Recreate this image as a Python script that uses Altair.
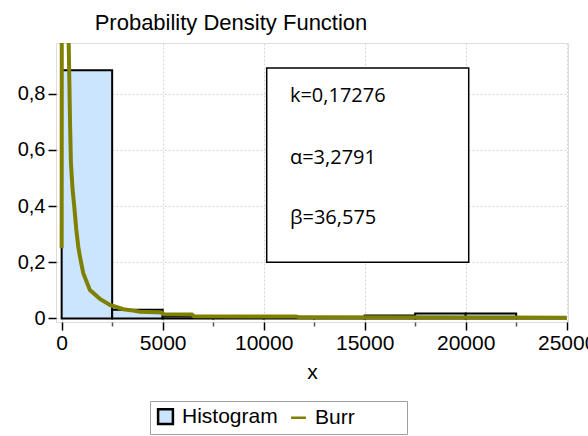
import altair as alt
import pandas as pd

# Histogram bins (width 2500) and their heights
bin_start = [0, 2500, 5000, 7500, 10000, 12500, 15000, 17500, 20000, 22500]
bin_end = [2500, 5000, 7500, 10000, 12500, 15000, 17500, 20000, 22500, 25000]
bin_height = [0.884, 0.031, 0.008, 0.003, 0.003, 0.001, 0.011, 0.018, 0.018, 0.0]

# Fitted Burr density, sampled along x
curve_x = [0, 20, 330, 380, 420, 460, 540, 625, 720, 822, 906, 1070, 1400,
           1896, 2390, 3050, 3545, 3876, 4950, 5050, 6450, 6550, 11600,
           11800, 25000]
curve_y = [0.25, 3.0, 1.05, 0.85, 0.68, 0.553, 0.46, 0.398, 0.32, 0.256,
           0.22, 0.161, 0.101, 0.07, 0.048, 0.033, 0.028, 0.024, 0.021,
           0.015, 0.014, 0.008, 0.007, 0.004, 0.003]

# Fitted parameters shown in the annotation box
param_text = ["k=0,17276", "α=3,2791", "β=36,575"]
param_y = [0.792, 0.572, 0.357]

series_names = ["Histogram", "Burr"]

x_ticks = list(range(0, 25001, 1250))
y_ticks = [round(i * 0.05, 2) for i in range(0, 20)]

hist_df = pd.DataFrame({"x0": bin_start, "x1": bin_end, "h": bin_height})
curve_df = pd.DataFrame({"x": curve_x, "y": curve_y, "series": "Burr"})
box_df = pd.DataFrame({"x0": [10150], "x1": [20150], "y0": [0.2], "y1": [0.892]})
text_df = pd.DataFrame({"x": [11300] * 3, "y": param_y, "t": param_text})
legend_df = pd.DataFrame({"series": series_names, "x": [0, 0], "y": [0, 0]})

x_scale = alt.Scale(domain=[-280, 25065], nice=False, zero=False)
y_scale = alt.Scale(domain=[-0.0125, 0.981], nice=False, zero=False)

FONT = "Liberation Sans"

x_axis = alt.Axis(
    values=x_ticks,
    labelExpr="datum.value % 5000 == 0 ? format(datum.value, 'd') : ''",
    tickSize={"condition": {"test": "datum.value % 5000 == 0", "value": 8}, "value": 4},
    tickColor={"condition": {"test": "datum.value % 5000 == 0", "value": "black"}, "value": "#555555"},
    gridOpacity={"condition": {"test": "datum.value % 5000 == 0", "value": 1}, "value": 0},
    tickWidth=1.5,
    grid=True,
    gridColor="#d4d4d4",
    gridDash=[2, 2],
    domain=False,
    labelFlush=False,
    labelOverlap=False,
    labelFont=FONT,
    labelFontSize=21,
    labelColor="black",
    labelPadding=2,
    title="x",
    titleFont=FONT,
    titleFontSize=21,
    titleFontWeight="normal",
    titleColor="black",
    titlePadding=8,
)

major_y = "abs(datum.value * 5 - round(datum.value * 5)) < 0.001"
y_axis = alt.Axis(
    values=y_ticks,
    labelExpr="(" + major_y + ") ? (datum.value == 0 ? '0' : replace(format(datum.value, '.1f'), '.', ',')) : ''",
    tickSize={"condition": {"test": major_y, "value": 8}, "value": 4},
    tickColor={"condition": {"test": major_y, "value": "black"}, "value": "#555555"},
    gridOpacity={"condition": {"test": major_y, "value": 1}, "value": 0},
    tickWidth=1.5,
    grid=True,
    gridColor="#d4d4d4",
    gridDash=[2, 2],
    domain=False,
    labelOverlap=False,
    labelFont=FONT,
    labelFontSize=20,
    labelColor="black",
    labelPadding=3,
    title=None,
)

# trailing no-break spaces widen the legend frame; the final zero-width
# character keeps them from being trimmed
legend = alt.Legend(
    title=None,
    orient="none",
    legendX=94,
    legendY=358,
    direction="horizontal",
    strokeColor="#a0a0a0",
    padding=5,
    labelFont=FONT,
    labelFontSize=21,
    labelColor="black",
    labelOffset=6,
    symbolSize=220,
    symbolStrokeWidth=2.5,
    symbolOpacity=1,
    columnPadding=8,
    labelExpr="datum.label == 'Burr' ? 'Burr' + '\u00a0\u00a0\u00a0\u00a0\u00a0\u00a0\u00a0\u00a0\u200b' : datum.label",
)

fill_scale = alt.Scale(domain=series_names, range=["#cce5ff", "#808000"])
stroke_scale = alt.Scale(domain=series_names, range=["black", "#808000"])
shape_scale = alt.Scale(domain=series_names, range=["square", "stroke"])

bars = alt.Chart(hist_df).mark_rect(
    fill="#cce5ff", stroke="black", strokeWidth=2
).encode(
    x=alt.X("x0:Q", scale=x_scale, axis=x_axis),
    x2="x1:Q",
    y=alt.Y("h:Q", scale=y_scale, axis=y_axis),
    y2=alt.datum(0),
)

curve = alt.Chart(curve_df).mark_line(strokeWidth=4, clip=True).encode(
    x=alt.X("x:Q", scale=x_scale),
    y=alt.Y("y:Q", scale=y_scale),
    stroke=alt.Stroke("series:N", scale=stroke_scale, legend=legend),
)

legend_marks = alt.Chart(legend_df).mark_point(filled=True, opacity=0).encode(
    x=alt.X("x:Q", scale=x_scale),
    y=alt.Y("y:Q", scale=y_scale),
    fill=alt.Fill("series:N", scale=fill_scale, legend=legend),
    stroke=alt.Stroke("series:N", scale=stroke_scale, legend=legend),
    shape=alt.Shape("series:N", scale=shape_scale, legend=legend),
)

box = alt.Chart(box_df).mark_rect(fill="white", stroke="black", strokeWidth=1.5).encode(
    x=alt.X("x0:Q", scale=x_scale),
    x2="x1:Q",
    y=alt.Y("y0:Q", scale=y_scale),
    y2="y1:Q",
)

params = alt.Chart(text_df).mark_text(
    align="left", baseline="middle", font="Open Sans", fontSize=20, color="black"
).encode(
    x=alt.X("x:Q", scale=x_scale),
    y=alt.Y("y:Q", scale=y_scale),
    text="t:N",
)

chart = alt.layer(bars, curve, box, params, legend_marks).properties(
    width=512,
    height=279,
    title=alt.TitleParams(
        "Probability Density Function",
        anchor="middle",
        dx=-81,
        offset=8,
        font=FONT,
        fontSize=22,
        fontWeight="normal",
        color="black",
    ),
    padding={"left": 56, "top": 43, "right": 20, "bottom": 114},
    autosize=alt.AutoSizeParams(type="none"),
).configure_view(
    stroke="black", strokeWidth=2
).configure(background="white")

chart.save("out.html", embed_options={"renderer": "svg", "actions": False})
